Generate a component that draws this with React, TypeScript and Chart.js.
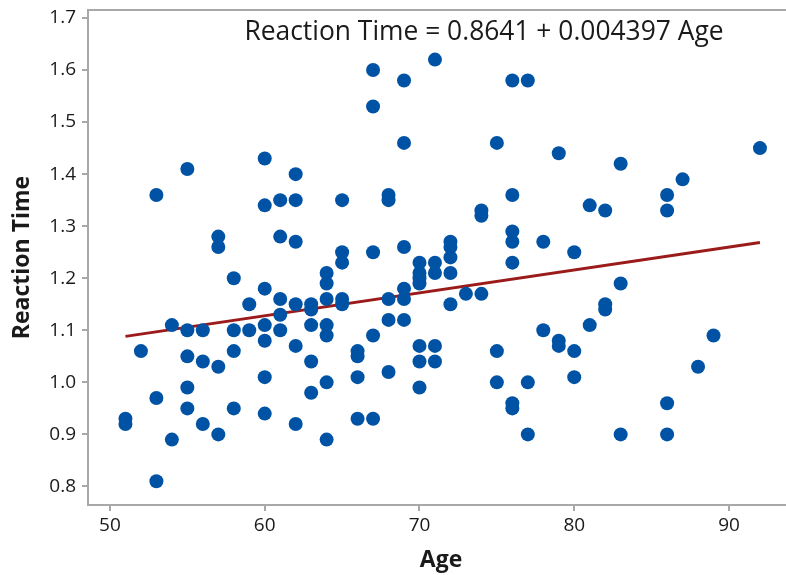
import React, { useEffect, useRef } from "react";
import { Chart, registerables } from "chart.js";

Chart.register(...registerables);

// Observed data (Age, Reaction Time)
const ages: number[] = [
  51, 51,
  52,
  53, 53, 53,
  54, 54,
  55, 55, 55, 55, 55,
  56, 56, 56,
  57, 57, 57, 57,
  58, 58, 58, 58,
  59, 59,
  60, 60, 60, 60, 60, 60, 60,
  61, 61, 61, 61, 61,
  62, 62, 62, 62, 62, 62,
  63, 63, 63, 63, 63,
  64, 64, 64, 64, 64, 64, 64,
  65, 65, 65, 65, 65,
  66, 66, 66, 66,
  67, 67, 67, 67, 67,
  68, 68, 68, 68, 68,
  69, 69, 69, 69, 69, 69,
  70, 70, 70, 70, 70, 70, 70,
  71, 71, 71, 71, 71,
  72, 72, 72, 72, 72,
  73,
  74, 74, 74,
  75, 75, 75,
  76, 76, 76, 76, 76, 76, 76,
  77, 77, 77,
  78, 78,
  79, 79, 79,
  80, 80, 80,
  81, 81,
  82, 82, 82,
  83, 83, 83,
  86, 86, 86, 86,
  87,
  88,
  89,
  92,
];

const reactionTimes: number[] = [
  0.93, 0.92,
  1.06,
  1.36, 0.97, 0.81,
  1.11, 0.89,
  1.41, 1.10, 1.05, 0.99, 0.95,
  1.10, 1.04, 0.92,
  1.28, 1.26, 1.03, 0.90,
  1.20, 1.10, 1.06, 0.95,
  1.15, 1.10,
  1.43, 1.34, 1.18, 1.11, 1.08, 1.01, 0.94,
  1.35, 1.28, 1.16, 1.13, 1.10,
  1.40, 1.35, 1.27, 1.15, 1.07, 0.92,
  1.15, 1.14, 1.11, 1.04, 0.98,
  1.21, 1.19, 1.16, 1.11, 1.09, 1.00, 0.89,
  1.35, 1.25, 1.23, 1.16, 1.15,
  1.06, 1.05, 1.01, 0.93,
  1.60, 1.53, 1.25, 1.09, 0.93,
  1.36, 1.35, 1.16, 1.12, 1.02,
  1.58, 1.46, 1.26, 1.18, 1.16, 1.12,
  1.23, 1.21, 1.20, 1.19, 1.07, 1.04, 0.99,
  1.62, 1.23, 1.21, 1.07, 1.04,
  1.27, 1.26, 1.24, 1.21, 1.15,
  1.17,
  1.33, 1.32, 1.17,
  1.46, 1.06, 1.00,
  1.58, 1.36, 1.29, 1.27, 1.23, 0.96, 0.95,
  1.58, 1.00, 0.90,
  1.27, 1.10,
  1.44, 1.08, 1.07,
  1.25, 1.06, 1.01,
  1.34, 1.11,
  1.33, 1.15, 1.14,
  1.42, 1.19, 0.90,
  1.36, 1.33, 0.96, 0.90,
  1.39,
  1.03,
  1.09,
  1.45,
];

// Fitted regression: Reaction Time = 0.8641 + 0.004397 Age
const intercept = 0.8641;
const slope = 0.004397;
const fitAges: number[] = [51, 92];

const xTicks: number[] = [50, 60, 70, 80, 90];
const yTicks: number[] = [0.8, 0.9, 1.0, 1.1, 1.2, 1.3, 1.4, 1.5, 1.6, 1.7];

const equationText = "Reaction Time = 0.8641 + 0.004397 Age";

const AXIS_COLOR = "#a8a8a8";
const TEXT_COLOR = "#1a1a1a";
const FONT = "'Open Sans', 'Noto Sans', sans-serif";

export default function App() {
  const canvasRef = useRef<HTMLCanvasElement | null>(null);

  useEffect(() => {
    document.body.style.margin = "0";
    document.body.style.overflow = "hidden";
    const canvas = canvasRef.current;
    if (!canvas) return;

    const points = ages.map((a, i) => ({ x: a, y: reactionTimes[i] }));
    const fitLine = fitAges.map((a) => ({ x: a, y: intercept + slope * a }));

    const framePlugin = {
      id: "frameAndEquation",
      afterDraw(chart: any) {
        const { ctx, chartArea } = chart;
        ctx.save();
        ctx.strokeStyle = AXIS_COLOR;
        ctx.lineWidth = 2;
        ctx.beginPath();
        ctx.moveTo(chartArea.left, chartArea.top);
        ctx.lineTo(chartArea.right, chartArea.top);
        ctx.stroke();
        ctx.fillStyle = TEXT_COLOR;
        ctx.font = `26.4px ${FONT}`;
        ctx.textAlign = "center";
        ctx.textBaseline = "alphabetic";
        ctx.fillText(equationText, 484, 40);
        ctx.restore();
      },
    };

    const chart = new Chart(canvas, {
      type: "scatter",
      data: {
        datasets: [
          {
            type: "line",
            label: "Fit",
            data: fitLine,
            borderColor: "#9b1a1a",
            borderWidth: 3,
            pointRadius: 0,
            fill: false,
            order: 2,
          } as any,
          {
            label: "Data",
            data: points,
            backgroundColor: "#0053a4",
            borderWidth: 0,
            pointRadius: 7,
            pointHoverRadius: 7,
            order: 1,
          },
        ],
      },
      options: {
        animation: false,
        responsive: false,
        maintainAspectRatio: false,
        layout: { padding: { top: 10, right: 0, left: 0, bottom: 0 } },
        plugins: {
          legend: { display: false },
          tooltip: { enabled: false },
        },
        scales: {
          x: {
            type: "linear",
            min: 48.58,
            max: 94.2,
            afterBuildTicks: (scale: any) => {
              scale.ticks = xTicks.map((v) => ({ value: v }));
            },
            afterFit: (scale: any) => {
              scale.height = 70;
              scale.paddingRight = 0;
              scale.paddingLeft = 0;
            },
            ticks: {
              color: TEXT_COLOR,
              font: { family: FONT, size: 19 },
              padding: 3,
              maxRotation: 0,
              callback: (v: any) => String(v),
            },
            grid: {
              display: true,
              drawOnChartArea: false,
              drawTicks: true,
              tickLength: 6,
              color: AXIS_COLOR,
              lineWidth: 2,
            },
            border: { display: true, color: AXIS_COLOR, width: 2 },
            title: {
              display: true,
              text: "Age",
              color: TEXT_COLOR,
              font: { family: FONT, size: 23, weight: "bold" },
              padding: { top: 0, bottom: 1 },
            },
          },
          y: {
            type: "linear",
            min: 0.7644,
            max: 1.7153,
            afterBuildTicks: (scale: any) => {
              scale.ticks = yTicks.map((v) => ({ value: v }));
            },
            afterFit: (scale: any) => {
              scale.width = 88;
              scale.paddingTop = 0;
              scale.paddingBottom = 0;
            },
            ticks: {
              color: TEXT_COLOR,
              font: { family: FONT, size: 19 },
              padding: 6,
              callback: (v: any) => Number(v).toFixed(1),
            },
            grid: {
              display: true,
              drawOnChartArea: false,
              drawTicks: true,
              tickLength: 6,
              color: AXIS_COLOR,
              lineWidth: 2,
            },
            border: { display: true, color: AXIS_COLOR, width: 2 },
            title: {
              display: true,
              text: "Reaction Time",
              color: TEXT_COLOR,
              font: { family: FONT, size: 23, weight: "bold" },
              padding: { top: 9, bottom: 0 },
            },
          },
        },
      },
      plugins: [framePlugin],
    });

    return () => chart.destroy();
  }, []);

  return (
    <div style={{ width: 786, height: 575, overflow: "hidden" }}>
      <canvas ref={canvasRef} width={801} height={575} style={{ display: "block" }} />
    </div>
  );
}
